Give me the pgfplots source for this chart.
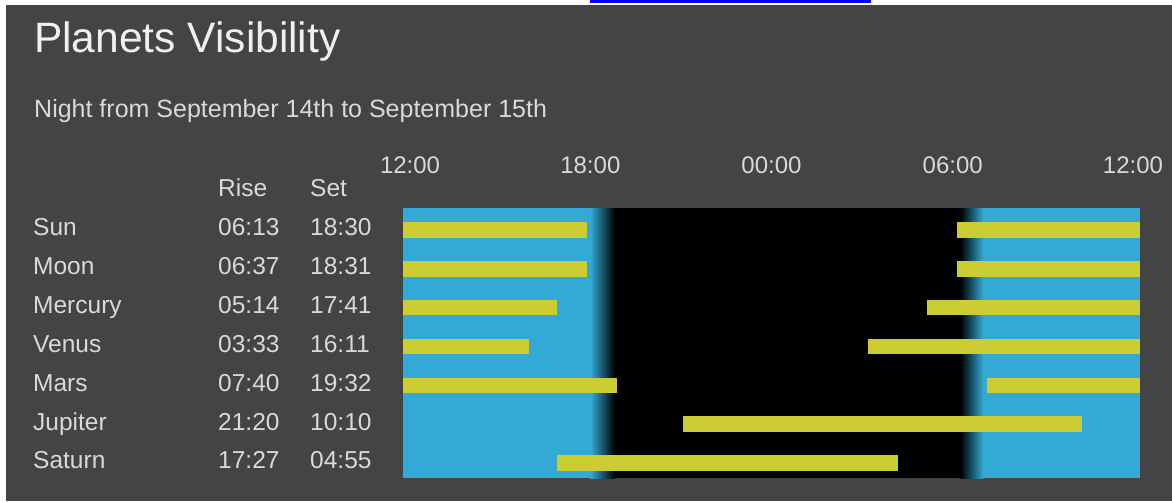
\documentclass[border=0pt]{standalone}
\usepackage{pgfplots}
\pgfplotsset{compat=1.18}
\usepackage{fontspec}
\setmainfont{Liberation Sans}
\definecolor{bg}{HTML}{444444}
\definecolor{skyb}{HTML}{33AAD6}
\definecolor{barc}{HTML}{CCCC33}
\definecolor{txt}{HTML}{D9D9D9}
\definecolor{linkb}{HTML}{0000FF}
\tikzset{vis/.style={barc, solid, line width=15.5pt, mark=none}}
\begin{document}
\begin{tikzpicture}[x=1pt,y=1pt]
\useasboundingbox (0,0) rectangle (1172,501);
\fill[white] (0,0) rectangle (1172,501);
\fill[bg] (6,0) rectangle (1172,496);
\fill[linkb] (590,498) rectangle (871,501);
\node[anchor=base west, text=white!94!black, font=\fontsize{42.5}{50}\selectfont, inner sep=0] at (34,448) {Planets Visibility};
\node[anchor=base west, text=txt, font=\fontsize{25}{30}\selectfont, inner sep=0] at (34,383) {Night from September 14th to September 15th};
\node[anchor=base west, text=txt, font=\fontsize{24.5}{30}\selectfont, inner sep=0] at (218,304) {Rise};
\node[anchor=base west, text=txt, font=\fontsize{24.5}{30}\selectfont, inner sep=0] at (310,304) {Set};
\foreach \n/\r/\s [count=\i from 0] in {Sun/06:13/18:30, Moon/06:37/18:31, Mercury/05:14/17:41, Venus/03:33/16:11, Mars/07:40/19:32, Jupiter/21:20/10:10, Saturn/17:27/04:55}{
  \pgfmathsetmacro{\yy}{265-38.83*\i}
  \node[anchor=base west, text=txt, font=\fontsize{24.5}{30}\selectfont, inner sep=0] at (33,\yy) {\n};
  \node[anchor=base west, text=txt, font=\fontsize{24.5}{30}\selectfont, inner sep=0] at (218,\yy) {\r};
  \node[anchor=base west, text=txt, font=\fontsize{24.5}{30}\selectfont, inner sep=0] at (310,\yy) {\s};
}
\begin{axis}[at={(403pt,23pt)}, anchor=south west, scale only axis,
  width=737pt, height=270pt,
  xmin=0, xmax=24, ymin=-0.567, ymax=6.387, y dir=reverse,
  axis line style={draw=none}, ytick=\empty,
  major tick length=0pt,
  xtick={0.23,6.1,12,17.9,23.77},
  xticklabels={12:00,18:00,00:00,06:00,12:00},
  xticklabel pos=right,
  xticklabel style={anchor=base, yshift=35pt, text=txt, font=\fontsize{24}{30}\selectfont},
  /pgf/number format/assume math mode=true]
% sky background
\addplot[draw=none, fill=skyb] coordinates {(0,-0.567) (6.1,-0.567) (6.1,6.387) (0,6.387)} -- cycle;
\addplot[draw=none, left color=skyb, right color=black] coordinates {(6.1,-0.567) (6.9,-0.567) (6.9,6.387) (6.1,6.387)} -- cycle;
\addplot[draw=none, fill=black] coordinates {(6.9,-0.567) (18.15,-0.567) (18.15,6.387) (6.9,6.387)} -- cycle;
\addplot[draw=none, left color=black, right color=skyb] coordinates {(18.15,-0.567) (18.9,-0.567) (18.9,6.387) (18.15,6.387)} -- cycle;
\addplot[draw=none, fill=skyb] coordinates {(18.9,-0.567) (24,-0.567) (24,6.387) (18.9,6.387)} -- cycle;
% visibility bars
\addplot[vis] coordinates {(0,0) (5.99,0)};
\addplot[vis] coordinates {(18.04,0) (24,0)};
\addplot[vis] coordinates {(0,1) (5.99,1)};
\addplot[vis] coordinates {(18.04,1) (24,1)};
\addplot[vis] coordinates {(0,2) (5.01,2)};
\addplot[vis] coordinates {(17.06,2) (24,2)};
\addplot[vis] coordinates {(0,3) (4.10,3)};
\addplot[vis] coordinates {(15.14,3) (24,3)};
\addplot[vis] coordinates {(0,4) (6.97,4)};
\addplot[vis] coordinates {(19.02,4) (24,4)};
\addplot[vis] coordinates {(9.12,5) (22.11,5)};
\addplot[vis] coordinates {(5.01,6) (16.12,6)};
\end{axis}
\end{tikzpicture}
\end{document}
